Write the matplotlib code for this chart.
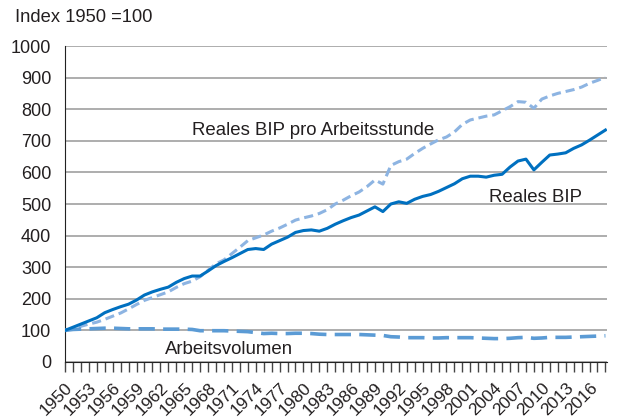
import numpy as np
import matplotlib.pyplot as plt

plt.rcParams['font.family'] = ['Liberation Sans', 'DejaVu Sans']

# Data (Index 1950 = 100)
years = list(range(1950, 2019))

bip = [100, 110, 120, 130, 140, 156, 166, 175, 183, 196,
       212, 222, 230, 237, 252, 264, 272, 272, 288, 305,
       318, 330, 343, 356, 359, 356, 373, 384, 395, 410,
       416, 418, 414, 423, 436, 447, 457, 465, 478, 491,
       476, 500, 507, 502, 515, 524, 530, 540, 552, 564,
       580, 588, 588, 585, 591, 594, 617, 636, 642, 608,
       632, 655, 658, 662, 676, 687, 702, 718, 734]

bip_stunde = [100, 106, 113, 120, 126, 135, 145, 155, 168, 182,
              195, 204, 213, 222, 236, 248, 256, 270, 290, 311,
              323, 343, 363, 384, 393, 402, 414, 424, 436, 449,
              456, 462, 470, 482, 500, 512, 526, 538, 555, 576,
              563, 622, 634, 642, 660, 676, 690, 703, 712, 728,
              752, 766, 772, 778, 782, 795, 808, 824, 822, 803,
              832, 842, 850, 856, 862, 870, 882, 891, 901]

volumen = [100, 103, 104, 105, 106, 107, 107, 106, 105, 105,
           105, 105, 104, 104, 104, 104, 103, 99, 99, 99,
           99, 98, 97, 96, 93, 90, 91, 90, 90, 91,
           91, 90, 88, 87, 87, 87, 87, 87, 86, 85,
           84, 80, 79, 77, 77, 77, 76, 76, 77, 77,
           77, 77, 76, 75, 74, 74, 75, 77, 78, 75,
           76, 78, 78, 78, 79, 80, 81, 82, 83]

fig = plt.figure(figsize=(6.17, 4.19), dpi=100)
ax = fig.add_axes([65 / 617, 1 - 362 / 419, 542 / 617, 316 / 419])

txt = '#231f20'
ax.plot(years, bip_stunde, color='#8db4e2', lw=2.2, ls=(0, (3, 1.6)), zorder=3)
ax.plot(years, bip, color='#0070c0', lw=2.2, zorder=4)
ax.plot(years, volumen, color='#5b9bd5', lw=2.6, ls=(0, (4.5, 2.3)), zorder=3)

ax.set_xlim(1950, 2018.2)
ax.set_ylim(0, 1000)
ax.set_yticks(range(0, 1001, 100))
ax.yaxis.grid(True, color='#a0a0a0', lw=1.2)
ax.set_axisbelow(True)

ax.set_xticks(years, minor=True)
ax.set_xticks(years[::3])
ax.set_xticklabels([str(y) for y in years[::3]], rotation=45, ha='right',
                   rotation_mode='anchor', fontsize=12.5, color=txt)
ax.tick_params(axis='x', which='both', direction='out', length=7, width=1,
               color='#444444', pad=6)
ax.tick_params(axis='y', length=0, labelsize=13, labelcolor=txt, pad=10)

for s in ['top', 'right']:
    ax.spines[s].set_visible(False)
ax.spines['left'].set_color('#222222')
ax.spines['bottom'].set_color('#222222')

ax.text(1966.0, 733, 'Reales BIP pro Arbeitsstunde', fontsize=13.4, color=txt, va='center')
ax.text(2003.3, 522, 'Reales BIP', fontsize=13.4, color=txt, va='center')
ax.text(1962.6, 38, 'Arbeitsvolumen', fontsize=13.4, color=txt, va='center')
fig.text(15 / 617, 1 - 17 / 419, 'Index 1950 =100', fontsize=13.2, color=txt, va='center')

fig.savefig('out.png', dpi=100)
